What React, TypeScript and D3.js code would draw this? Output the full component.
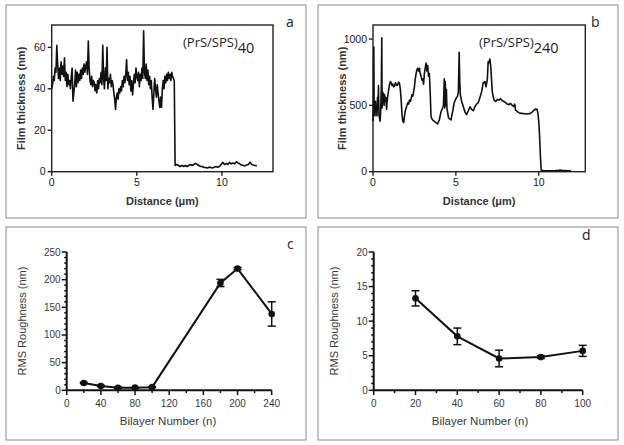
import React from 'react';
import * as d3 from 'd3';

// ---------- Panel a: (PrS/SPS)40 profile ----------
const aHighStart = 0;
const aHighStep = 0.05;
const aHighThick = [
  40, 42, 46, 44, 50, 48, 61, 52, 45, 50,
  44, 53, 47, 51, 46, 55, 44, 48, 41, 47,
  42, 44, 40, 46, 50, 34, 38, 42, 49, 41,
  48, 43, 47, 44, 49, 45, 50, 47, 52, 48,
  51, 53, 47, 63, 50, 44, 42, 46, 41, 44,
  43, 39, 42, 38, 44, 40, 45, 43, 48, 42,
  61, 45, 40, 50, 44, 60, 40, 45, 43, 47,
  41, 44, 42, 38, 35, 30, 36, 38, 35, 40,
  38, 41, 39, 44, 41, 46, 43, 47, 54, 44,
  48, 42, 46, 39, 44, 37, 42, 47, 43, 50,
  46, 44, 48, 41, 47, 44, 50, 45, 68, 48,
  45, 52, 44, 49, 42, 46, 40, 44, 36, 30,
  38, 45, 40, 36, 42, 38, 34, 31, 36, 31,
  40, 44, 40, 46, 43, 47, 44, 48, 45, 47,
  44, 48, 46, 45, 44,
];
const aLowStart = 7.25;
const aLowStep = 0.1;
const aLowThick = [
  3, 3.5, 3, 2.5, 3, 2.5, 3, 2.5, 3, 3.5,
  3, 3.5, 4, 3.5, 3, 2.5, 2.5, 2, 2, 1.8,
  2.2, 2, 1.8, 2.2, 2.5, 2.2, 2.5, 3.5, 4.5, 3.5,
  4, 3.5, 4.5, 3.8, 4.2, 3.8, 4.8, 4.2, 3.8, 3.2,
  3, 2.8, 3.2, 3.5, 4.5, 3.5, 3.2, 3, 2.8,
];
const aXTicks = [0, 5, 10];
const aYTicks = [0, 20, 40, 60];

// ---------- Panel b: (PrS/SPS)240 profile ----------
const bDist = [
  0.00, 0.03, 0.05, 0.07, 0.10, 0.12, 0.15, 0.18, 0.21, 0.24,
  0.27, 0.30, 0.33, 0.36, 0.40, 0.43, 0.46, 0.50, 0.53, 0.55,
  0.58, 0.61, 0.64, 0.67, 0.70, 0.74, 0.78, 0.82, 0.86, 0.90,
  0.95, 1.00, 1.05, 1.10, 1.15, 1.20, 1.25, 1.30, 1.35, 1.40,
  1.45, 1.50, 1.55, 1.60, 1.65, 1.70, 1.75, 1.80, 1.85, 1.90,
  1.95, 2.00, 2.05, 2.10, 2.15, 2.20, 2.25, 2.30, 2.35, 2.40,
  2.45, 2.50, 2.55, 2.60, 2.65, 2.70, 2.75, 2.80, 2.85, 2.90,
  2.95, 3.00, 3.05, 3.10, 3.15, 3.20, 3.25, 3.30, 3.35, 3.40,
  3.45, 3.50, 3.55, 3.60, 3.70, 3.80, 3.90, 4.00, 4.05, 4.10,
  4.20, 4.25, 4.30, 4.33, 4.36, 4.40, 4.43, 4.46, 4.50, 4.55,
  4.60, 4.70, 4.80, 4.90, 5.00, 5.10, 5.15, 5.20, 5.23, 5.27,
  5.35, 5.45, 5.55, 5.65, 5.75, 5.85, 5.95, 6.05, 6.15, 6.25,
  6.35, 6.45, 6.55, 6.65, 6.75, 6.82, 6.90, 6.95, 7.00, 7.05,
  7.10, 7.15, 7.20, 7.30, 7.40, 7.50, 7.60, 7.70, 7.80, 7.90,
  8.00, 8.10, 8.20, 8.30, 8.40, 8.50, 8.55, 8.60, 8.70, 8.80,
  8.90, 9.00, 9.20, 9.40, 9.50, 9.60, 9.70, 9.80, 9.90, 9.95,
  10.00, 10.05, 10.10, 10.15, 10.30, 10.50, 10.80, 11.00, 11.20, 11.30,
  11.40, 11.60, 11.80, 11.95,
];
const bThick = [
  380, 520, 940, 430, 480, 420, 530, 450, 500, 420,
  560, 470, 650, 430, 400, 380, 450, 620, 1010, 480,
  600, 520, 590, 500, 580, 530, 560, 470, 540, 580,
  620, 660, 680, 670, 650, 660, 640, 645, 670, 660,
  650, 660, 675, 665, 620, 540, 430, 380, 370, 420,
  460, 480, 500, 520, 510, 540, 530, 550, 580, 570,
  600, 640, 700, 740, 770, 780, 760, 780, 740, 720,
  690, 700, 660, 740, 780, 820, 760, 800, 720, 740,
  600, 420, 400, 390, 380, 370, 360, 390, 420, 450,
  480, 500, 700, 480, 680, 500, 620, 480, 450, 410,
  400, 390, 450, 520, 550, 570, 600, 900, 700, 580,
  530, 490, 450, 430, 460, 490, 470, 460, 490, 510,
  520, 560, 600, 670, 680, 640, 700, 830, 820, 850,
  800, 700, 600, 540, 530, 545, 540, 550, 535, 530,
  520, 510, 505, 515, 500, 490, 510, 465, 455, 445,
  440, 440, 435, 438, 440, 450, 462, 472, 470, 440,
  380, 270, 120, 10, 8, 6, 7, 8, 10, 12,
  9, 8, 7, 6,
];
const bXTicks = [0, 5, 10];
const bYTicks = [0, 500, 1000];

// ---------- Panel c: RMS roughness vs bilayer number ----------
const cBilayers = [20, 40, 60, 80, 100, 180, 200, 240];
const cRms = [13.3, 7.8, 4.6, 4.8, 5.7, 194, 220, 138];
const cErr = [1.1, 1.2, 1.2, 0.2, 0.8, 6.5, 2, 22];
const cXTicks = [0, 40, 80, 120, 160, 200, 240];
const cYTicks = [0, 50, 100, 150, 200, 250];

// ---------- Panel d: RMS roughness (zoom) ----------
const dBilayers = [20, 40, 60, 80, 100];
const dRms = [13.3, 7.8, 4.6, 4.8, 5.7];
const dErr = [1.1, 1.2, 1.2, 0.2, 0.8];
const dXTicks = [0, 20, 40, 60, 80, 100];
const dYTicks = [0, 5, 10, 15, 20];

const SANS = "'Liberation Sans', Arial, sans-serif";
const CAL = "'Open Sans', 'Noto Sans', sans-serif";

function ProfilePanel(props: {
  pts: [number, number][];
  xDom: [number, number];
  xRange: [number, number];
  yDom: [number, number];
  xTicks: number[];
  yTicks: number[];
  label: string;
  sub: string;
  labelX: number;
  letter: string;
  letterX: number;
  box: [number, number, number, number];
}) {
  const { pts, xDom, xRange, yDom, xTicks, yTicks } = props;
  const x = d3.scaleLinear().domain(xDom).range(xRange);
  const y = d3.scaleLinear().domain(yDom).range([171.7, 25]);
  const line = d3.line<[number, number]>().x((d) => x(d[0])).y((d) => y(d[1]));
  const [x0, x1] = xRange;
  const [bx, by, bw, bh] = props.box;
  return (
    <g>
      <rect x={bx} y={by} width={bw} height={bh} fill="none" stroke="#8a8a8a" strokeWidth={1} />
      <rect x={x0} y={25} width={x1 - x0} height={171.7 - 25} fill="none" stroke="#222" strokeWidth={1.4} />
      {yTicks.map((t) => (
        <g key={'y' + t}>
          <line x1={x0 - 4} x2={x0} y1={y(t)} y2={y(t)} stroke="#222" strokeWidth={1.4} />
          <text x={x0 - 6} y={y(t) + 3.5} textAnchor="end" fontSize={10.5} fontFamily={SANS} fill="#1a1a1a">
            {t}
          </text>
        </g>
      ))}
      {xTicks.map((t) => (
        <g key={'x' + t}>
          <line x1={x(t)} x2={x(t)} y1={171.7} y2={175.7} stroke="#222" strokeWidth={1.4} />
          <text x={x(t)} y={186} textAnchor="middle" fontSize={10.5} fontFamily={SANS} fill="#1a1a1a">
            {t}
          </text>
        </g>
      ))}
      <path d={line(pts) || ''} fill="none" stroke="#111" strokeWidth={1.6} strokeLinejoin="round" />
      <text
        transform={`translate(${x0 - 27},${(25 + 171.7) / 2}) rotate(-90)`}
        textAnchor="middle"
        fontSize={11}
        fontWeight="bold"
        fontFamily={SANS}
        fill="#333"
      >
        Film thickness (nm)
      </text>
      <text x={(x0 + x1) / 2} y={205} textAnchor="middle" fontSize={11} fontWeight="bold" fontFamily={SANS} fill="#333">
        Distance (μm)
      </text>
      <text x={props.labelX} y={47} fontSize={13} fontFamily={CAL} fill="#222">
        {props.label}
        <tspan fontSize={14.5} dy={6}>
          {props.sub}
        </tspan>
      </text>
      <text x={props.letterX} y={27} fontSize={14} fontFamily={CAL} fill="#222">
        {props.letter}
      </text>
    </g>
  );
}

function RmsPanel(props: {
  xs: number[];
  ys: number[];
  errs: number[];
  xDom: [number, number];
  xRange: [number, number];
  yDom: [number, number];
  xTicks: number[];
  yTicks: number[];
  xMinor: number[];
  yMinor: number[];
  letter: string;
  letterPos: [number, number];
  box: [number, number, number, number];
}) {
  const { xs, ys, errs, xDom, xRange, yDom, xTicks, yTicks } = props;
  const x = d3.scaleLinear().domain(xDom).range(xRange);
  const y = d3.scaleLinear().domain(yDom).range([390.3, 252]);
  const pts = xs.map((v, i) => [v, ys[i]] as [number, number]);
  const line = d3.line<[number, number]>().x((d) => x(d[0])).y((d) => y(d[1]));
  const [x0, x1] = xRange;
  const [bx, by, bw, bh] = props.box;
  const col = '#3a3a3a';
  return (
    <g>
      <rect x={bx} y={by} width={bw} height={bh} fill="none" stroke="#8a8a8a" strokeWidth={1} />
      <line x1={x0} x2={x0} y1={252} y2={390.3} stroke="#111" strokeWidth={2} />
      <line x1={x0} x2={x1} y1={390.3} y2={390.3} stroke="#111" strokeWidth={2} />
      {props.yMinor.map((t) => (
        <line key={'ym' + t} x1={x0 - 2.5} x2={x0} y1={y(t)} y2={y(t)} stroke="#111" strokeWidth={1.5} />
      ))}
      {props.xMinor.map((t) => (
        <line key={'xm' + t} x1={x(t)} x2={x(t)} y1={390.3} y2={393} stroke="#111" strokeWidth={1.5} />
      ))}
      {yTicks.map((t) => (
        <g key={'y' + t}>
          <line x1={x0 - 5} x2={x0} y1={y(t)} y2={y(t)} stroke="#111" strokeWidth={1.5} />
          <text x={x0 - 6} y={y(t) + 3.5} textAnchor="end" fontSize={10} fontFamily={SANS} fill={col}>
            {t}
          </text>
        </g>
      ))}
      {xTicks.map((t) => (
        <g key={'x' + t}>
          <line x1={x(t)} x2={x(t)} y1={390.3} y2={395} stroke="#111" strokeWidth={1.5} />
          <text x={x(t)} y={407} textAnchor="middle" fontSize={10} fontFamily={SANS} fill={col}>
            {t}
          </text>
        </g>
      ))}
      <path d={line(pts) || ''} fill="none" stroke="#111" strokeWidth={2} />
      {pts.map((d, i) => (
        <g key={'p' + i}>
          <line x1={x(d[0])} x2={x(d[0])} y1={y(d[1] - errs[i])} y2={y(d[1] + errs[i])} stroke="#111" strokeWidth={1.5} />
          <line x1={x(d[0]) - 4} x2={x(d[0]) + 4} y1={y(d[1] - errs[i])} y2={y(d[1] - errs[i])} stroke="#111" strokeWidth={1.5} />
          <line x1={x(d[0]) - 4} x2={x(d[0]) + 4} y1={y(d[1] + errs[i])} y2={y(d[1] + errs[i])} stroke="#111" strokeWidth={1.5} />
          <circle cx={x(d[0])} cy={y(d[1])} r={3.3} fill="#111" />
        </g>
      ))}
      <text
        transform={`translate(${bx + 20},${321}) rotate(-90)`}
        textAnchor="middle"
        fontSize={11}
        fontFamily={SANS}
        fill={col}
      >
        RMS Roughness (nm)
      </text>
      <text x={bx + 162} y={425} textAnchor="middle" fontSize={11.5} fontFamily={SANS} fill={col}>
        Bilayer Number (n)
      </text>
      <text x={props.letterPos[0]} y={props.letterPos[1]} fontSize={14} fontFamily={CAL} fill="#222">
        {props.letter}
      </text>
    </g>
  );
}

export default function App() {
  const aPts: [number, number][] = [
    ...aHighThick.map((v, i) => [aHighStart + i * aHighStep, v] as [number, number]),
    ...aLowThick.map((v, i) => [aLowStart + i * aLowStep, v] as [number, number]),
  ];
  const bPts: [number, number][] = bDist.map((v, i) => [v, bThick[i]] as [number, number]);
  const cXMinor = d3.range(20, 240, 40);
  const cYMinor = d3.range(10, 250, 10).filter((v) => v % 50 !== 0);
  const dXMinor = d3.range(10, 100, 20);
  const dYMinor = d3.range(1, 20, 1).filter((v) => v % 5 !== 0);
  return (
    <svg
      width={624}
      height={445}
      style={{ position: 'absolute', left: 0, top: 0, background: '#fff' }}
    >
      <rect x={0} y={0} width={624} height={445} fill="#fff" />
      <ProfilePanel
        pts={aPts}
        xDom={[0, 13]}
        xRange={[51.7, 273]}
        yDom={[0, 70.8]}
        xTicks={aXTicks}
        yTicks={aYTicks}
        label="(PrS/SPS)"
        sub="40"
        labelX={183}
        letter="a"
        letterX={286}
        box={[6, 5, 300, 213]}
      />
      <ProfilePanel
        pts={bPts}
        xDom={[0, 12.81]}
        xRange={[373, 585.3]}
        yDom={[0, 1106]}
        xTicks={bXTicks}
        yTicks={bYTicks}
        label="(PrS/SPS)"
        sub="240"
        labelX={479}
        letter="b"
        letterX={591}
        box={[318, 5, 300, 213]}
      />
      <RmsPanel
        xs={cBilayers}
        ys={cRms}
        errs={cErr}
        xDom={[0, 240]}
        xRange={[66.7, 271.7]}
        yDom={[0, 250]}
        xTicks={cXTicks}
        yTicks={cYTicks}
        xMinor={cXMinor}
        yMinor={cYMinor}
        letter="c"
        letterPos={[287, 249]}
        box={[6, 227, 300, 213]}
      />
      <RmsPanel
        xs={dBilayers}
        ys={dRms}
        errs={dErr}
        xDom={[0, 100]}
        xRange={[373.7, 582.7]}
        yDom={[0, 20]}
        xTicks={dXTicks}
        yTicks={dYTicks}
        xMinor={dXMinor}
        yMinor={dYMinor}
        letter="d"
        letterPos={[582, 240]}
        box={[318, 227, 300, 213]}
      />
    </svg>
  );
}
